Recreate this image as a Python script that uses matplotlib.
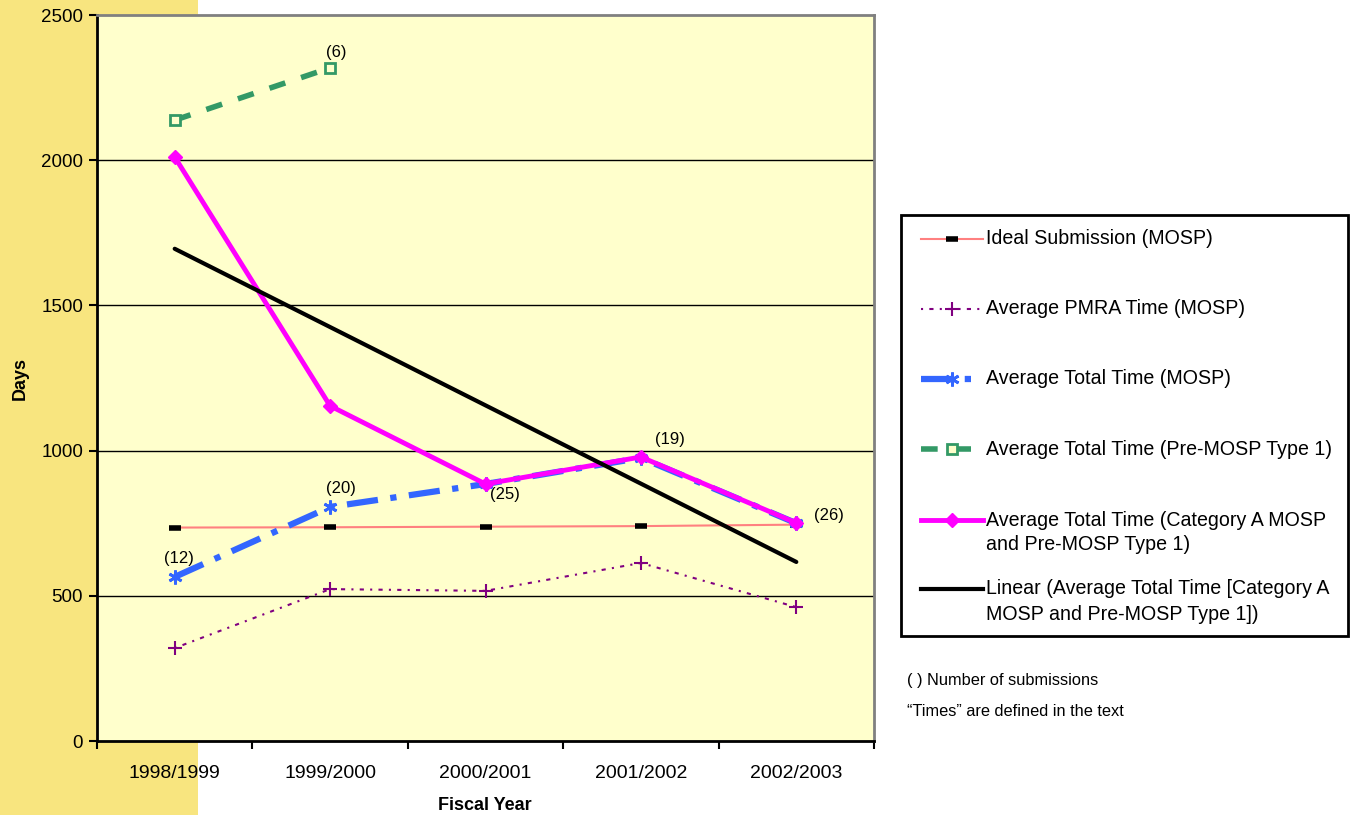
import matplotlib
matplotlib.use("Agg")
import matplotlib.pyplot as plt
import numpy as np
from matplotlib.lines import Line2D
from matplotlib.patches import Rectangle

plt.rcParams['font.family'] = ['Liberation Sans', 'DejaVu Sans']

years = ["1998/1999", "1999/2000", "2000/2001", "2001/2002", "2002/2003"]
ideal = [735, 736, 738, 740, 745]
pmra = [320, 523, 517, 613, 461]
total_mosp = [565, 806, 885, 975, 750]
pre_mosp = [2138, 2318]
cat_a = [2011, 1154, 885, 978, 751]

x = np.arange(len(years))
coef = np.polyfit(x, cat_a, 1)
trend = np.polyval(coef, x)

W, H = 1351, 815
fig = plt.figure(figsize=(W/100, H/100), dpi=100)
fig.patch.set_facecolor('white')
fig.add_artist(Rectangle((0, 0), 198/W, 1, transform=fig.transFigure,
                         facecolor='#F8E57F', edgecolor='none', zorder=0))

ax = fig.add_axes([97/W, 1-741/H, (874-97)/W, (741-15)/H])
ax.set_facecolor('#FFFFCC')
ax.set_xlim(-0.5, 4.5)
ax.set_ylim(0, 2500)
ax.set_yticks([0, 500, 1000, 1500, 2000, 2500])
for yv in [500, 1000, 1500, 2000]:
    ax.axhline(yv, color='black', lw=1, zorder=1)
ax.set_xticks(np.arange(-0.5, 5, 1.0))
ax.set_xticklabels([])
ax.set_xticks(x, minor=True)
ax.set_xticklabels(years, minor=True)
ax.tick_params(axis='x', which='minor', length=0, pad=17, labelsize=14)
ax.tick_params(axis='x', which='major', length=6, width=1.5, direction='out')
ax.tick_params(axis='y', length=6, width=1.5, direction='out', labelsize=13.5, pad=4)
for s in ['left', 'bottom']:
    ax.spines[s].set_color('black')
    ax.spines[s].set_linewidth(2)
for s in ['top', 'right']:
    ax.spines[s].set_color('#808080')
    ax.spines[s].set_linewidth(2)

st_ideal = dict(color='#FF8080', lw=1.5, marker='_', ms=8, mew=4, mec='black')
st_pmra = dict(color='#800080', lw=1.5, ls=(0, (1, 3, 2, 3)), marker='+', ms=10, mew=1.5)
st_mosp = dict(color='#3366FF', lw=4.5, ls=(0, (5, 2, 1, 2)), marker=(6, 2, 0), ms=10, mew=2, mec='#3366FF')
st_pre = dict(color='#339966', lw=4, ls=(0, (3, 3)), marker='s', ms=7, mfc='#FFFFCC', mec='#339966', mew=2)
st_cat = dict(color='#FF00FF', lw=3.5, marker='D', ms=7, mec='#FF00FF')
st_lin = dict(color='black', lw=3)

ax.plot(x, ideal, zorder=3, **st_ideal)
ax.plot(x, pmra, zorder=3, **st_pmra)
ax.plot(x, total_mosp, zorder=4, **st_mosp)
ax.plot(x[:len(pre_mosp)], pre_mosp, zorder=4, **st_pre)
ax.plot(x, cat_a, zorder=5, **st_cat)
ax.plot(x, trend, zorder=6, solid_capstyle='round', **st_lin)

fs_ann = 12
ax.annotate("(6)", (1, pre_mosp[1]), xytext=(-3, 6), textcoords='offset points', fontsize=fs_ann, ha='left', va='bottom')
ax.annotate("(12)", (0, total_mosp[0]), xytext=(-8, 8), textcoords='offset points', fontsize=fs_ann, ha='left', va='bottom')
ax.annotate("(20)", (1, total_mosp[1]), xytext=(-3, 8), textcoords='offset points', fontsize=fs_ann, ha='left', va='bottom')
ax.annotate("(25)", (2, total_mosp[2]), xytext=(3, -2), textcoords='offset points', fontsize=fs_ann, ha='left', va='top')
ax.annotate("(19)", (3, total_mosp[3]), xytext=(10, 8), textcoords='offset points', fontsize=fs_ann, ha='left', va='bottom')
ax.annotate("(26)", (4, total_mosp[4]), xytext=(13, 0), textcoords='offset points', fontsize=fs_ann, ha='left', va='bottom')

fig.text(20/W, 1-378/H, "Days", rotation=90, fontsize=13, fontweight='bold', ha='center', va='center')
fig.text(485/W, 1-805/H, "Fiscal Year", fontsize=13, fontweight='bold', ha='center', va='center')

# legend drawn manually
fig.add_artist(Rectangle((901/W, 1-636/H), (1348-901)/W, (636-215)/H, transform=fig.transFigure,
                         facecolor='white', edgecolor='black', lw=2, zorder=2))
entries = [
    (st_ideal, 239, "Ideal Submission (MOSP)"),
    (st_pmra, 309, "Average PMRA Time (MOSP)"),
    (st_mosp, 379, "Average Total Time (MOSP)"),
    (st_pre, 449, "Average Total Time (Pre-MOSP Type 1)"),
    (st_cat, 520, "Average Total Time (Category A MOSP\nand Pre-MOSP Type 1)"),
    (st_lin, 589, "Linear (Average Total Time [Category A\nMOSP and Pre-MOSP Type 1])"),
]
for st, yp, lab in entries:
    d = dict(st)
    mk = d.pop('marker', None)
    yf = 1 - yp/H
    fig.add_artist(Line2D([921/W, 983/W], [yf, yf], transform=fig.transFigure, zorder=3,
                          **{k: v for k, v in d.items() if k not in ('ms', 'mew', 'mec', 'mfc')}))
    if mk is not None:
        fig.add_artist(Line2D([952/W], [yf], transform=fig.transFigure, zorder=4, marker=mk, ls='none',
                              ms=d.get('ms', 6), mew=d.get('mew', 1), mec=d.get('mec', d['color']),
                              mfc=d.get('mfc', d['color']), color=d['color']))
    if '\n' in lab:
        fig.text(986/W, 1 - (yp + 12.5)/H, lab, fontsize=14.1, ha='left', va='center',
                 linespacing=1.4, zorder=5)
    else:
        fig.text(986/W, yf, lab, fontsize=14.1, ha='left', va='center', zorder=5)

fig.text(907/W, 1-681/H, "( ) Number of submissions", fontsize=11.8, ha='left', va='center')
fig.text(907/W, 1-711/H, "\u201cTimes\u201d are defined in the text", fontsize=11.8, ha='left', va='center')

fig.savefig("out.png", dpi=100)
